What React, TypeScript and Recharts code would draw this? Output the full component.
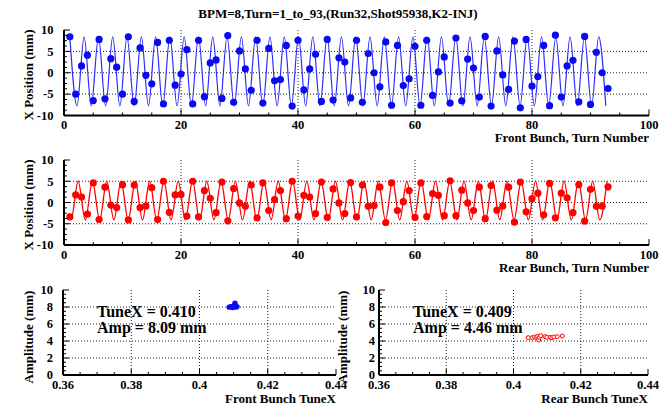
import React from 'react';
import { ComposedChart, Line, Scatter, XAxis, YAxis, CartesianGrid } from 'recharts';

// ---------- data ----------
const TITLE = 'BPM=8,Turn=1_to_93,(Run32,Shot95938,K2-INJ)';

// measured positions per turn (turn = index + 1)
const FRONT_X = [
  8.4, -5.0, 1.6, 4.1, -6.5, 7.8, -6.1, 3.3, 1.3, -5.0,
  8.4, -6.7, 5.8, -0.6, -2.6, 7.1, -7.3, 7.6, -2.9, -0.3,
  5.4, -7.3, 7.6, -5.6, 2.3, 3.0, -6.0, 8.7, -6.9, 5.1,
  0.9, -4.1, 7.6, -7.1, 5.7, -1.9, -1.6, 6.4, -7.8, 7.6,
  -4.0, 0.9, 4.3, -6.7, 7.8, -6.4, 3.5, 2.5, -5.9, 7.6,
  -6.9, 4.5, 0.0, -3.3, 7.2, -7.6, 6.4, -3.0, -1.4, 6.2,
  -7.6, 7.6, -5.3, 0.2, 3.7, -7.1, 8.1, -6.6, 3.2, 1.1,
  -5.7, 8.5, -7.8, 5.1, -0.5, -3.9, 7.4, -8.2, 7.8, -3.1,
  -0.9, 6.4, -7.7, 8.8, -5.7, 1.6, 2.9, -6.8, 8.5, -7.4,
  4.8, 0.0, -3.7,
];

const REAR_X = [
  -3.4, 1.8, 1.3, -2.7, 4.6, -4.0, 3.6, -0.6, -1.2, 4.2,
  -4.1, 4.1, -1.2, -0.8, 3.5, -4.0, 5.0, -2.3, 1.8, 1.9,
  -3.2, 5.0, -3.4, 2.8, 1.0, -2.4, 4.8, -4.3, 3.3, -0.1,
  -0.9, 4.1, -3.6, 4.6, -1.9, 0.7, 2.8, -3.8, 5.0, -3.2,
  1.7, 1.3, -2.6, 4.8, -3.5, 3.2, -0.1, -2.6, 4.7, -3.4,
  4.1, -0.9, -0.7, 3.6, -4.7, 4.6, -1.9, 0.2, 2.8, -3.5,
  4.6, -3.3, 2.1, 1.7, -3.1, 5.1, -3.1, 2.9, -0.1, -1.9,
  3.6, -3.8, 4.0, -1.8, -0.8, 3.6, -4.6, 4.8, -2.2, 0.9,
  2.2, -2.9, 4.5, -3.6, 2.2, 1.1, -2.4, 4.2, -4.4, 3.1,
  -0.9, -0.8, 3.7,
];

// fitted curve: turn positions of its successive extrema (front starts on a peak)
const FRONT_FIT_T = [
  1.00, 2.22, 3.44, 4.66, 5.89, 7.11, 8.33, 9.55, 10.77, 11.99,
  13.22, 14.44, 15.66, 16.88, 18.10, 19.32, 20.55, 21.77, 22.99, 24.21,
  25.43, 26.65, 27.88, 29.10, 30.32, 31.54, 32.76, 33.98, 35.20, 36.43,
  37.65, 38.87, 40.09, 41.31, 42.53, 43.76, 44.98, 46.20, 47.42, 48.64,
  49.86, 51.09, 52.31, 53.53, 54.75, 55.97, 57.19, 58.42, 59.64, 60.86,
  62.08, 63.30, 64.52, 65.74, 66.97, 68.19, 69.41, 70.63, 71.85, 73.07,
  74.30, 75.52, 76.74, 77.96, 79.18, 80.40, 81.63, 82.85, 84.07, 85.29,
  86.51, 87.73, 88.96, 90.18, 91.40, 92.62,
];
const FRONT_FIT_PEAK = 8.4;
const FRONT_FIT_TROUGH = -7.75;

// rear fit starts at turn 1, then alternates trough / peak
const REAR_FIT_START = [1.0, -3.3];
const REAR_FIT_T = [
  1.20, 2.42, 3.64, 4.86, 6.09, 7.31, 8.53, 9.75, 10.97, 12.19,
  13.42, 14.64, 15.86, 17.08, 18.30, 19.52, 20.74, 21.97, 23.19, 24.41,
  25.63, 26.85, 28.07, 29.29, 30.52, 31.74, 32.96, 34.18, 35.40, 36.62,
  37.85, 39.07, 40.29, 41.51, 42.73, 43.95, 45.17, 46.40, 47.62, 48.84,
  50.06, 51.28, 52.50, 53.72, 54.95, 56.17, 57.39, 58.61, 59.83, 61.05,
  62.28, 63.50, 64.72, 65.94, 67.16, 68.38, 69.60, 70.83, 72.05, 73.27,
  74.49, 75.71, 76.93, 78.15, 79.38, 80.60, 81.82, 83.04, 84.26, 85.48,
  86.71, 87.93, 89.15, 90.37, 91.59, 92.81,
];
const REAR_FIT_PEAK = 5.0;
const REAR_FIT_TROUGH = -4.1;

// tune scans
const FRONT_TUNE = [0.4087, 0.4092, 0.4097, 0.4101, 0.4103, 0.4104, 0.4107, 0.4110, 0.4100];
const FRONT_AMP = [7.98, 8.05, 7.95, 8.02, 8.25, 8.45, 8.0, 8.05, 8.1];
const REAR_TUNE = [0.4044, 0.4056, 0.4063, 0.4069, 0.4072, 0.4075, 0.4077, 0.4081, 0.4094, 0.4099, 0.4109, 0.4114, 0.4120, 0.4130, 0.4145];
const REAR_AMP = [4.39, 4.39, 4.47, 4.43, 4.55, 4.12, 4.43, 4.63, 4.51, 4.43, 4.43, 4.39, 4.47, 4.51, 4.59];

const FRONT_TEXT = ['TuneX = 0.410', 'Amp = 8.09 mm'];
const REAR_TEXT = ['TuneX = 0.409', 'Amp = 4.46 mm'];

// axes
const TURN_DOMAIN = [0, 100];
const TURN_MAJOR = [0, 20, 40, 60, 80, 100];
const TURN_TICKS = [0, 5, 10, 15, 20, 25, 30, 35, 40, 45, 50, 55, 60, 65, 70, 75, 80, 85, 90, 95, 100];
const POS_DOMAIN = [-10, 10];
const POS_MAJOR = [-10, -5, 0, 5, 10];
const POS_TICKS = [-10, -8.75, -7.5, -6.25, -5, -3.75, -2.5, -1.25, 0, 1.25, 2.5, 3.75, 5, 6.25, 7.5, 8.75, 10];
const TURN_GRID = [20, 40, 60, 80];
const POS_GRID = [-5, 0, 5];

const TUNE_DOMAIN = [0.36, 0.44];
const TUNE_MAJOR = [0.36, 0.38, 0.4, 0.42, 0.44];
const TUNE_TICKS = [0.36, 0.365, 0.37, 0.375, 0.38, 0.385, 0.39, 0.395, 0.4, 0.405, 0.41, 0.415, 0.42, 0.425, 0.43, 0.435, 0.44];
const AMP_DOMAIN = [0, 10];
const AMP_MAJOR = [0, 2, 4, 6, 8, 10];
const AMP_TICKS = [0, 0.5, 1, 1.5, 2, 2.5, 3, 3.5, 4, 4.5, 5, 5.5, 6, 6.5, 7, 7.5, 8, 8.5, 9, 9.5, 10];
const TUNE_GRID = [0.38, 0.4, 0.42];
const AMP_GRID = [2, 4, 6, 8];

// ---------- tables ----------
const frontDots = FRONT_X.map((v, i) => ({ t: i + 1, v }));
const rearDots = REAR_X.map((v, i) => ({ t: i + 1, v }));
const frontFit = FRONT_FIT_T.map((t, i) => ({ t, v: i % 2 === 0 ? FRONT_FIT_PEAK : FRONT_FIT_TROUGH }));
const rearFit = [
  { t: REAR_FIT_START[0], v: REAR_FIT_START[1] },
  ...REAR_FIT_T.map((t, i) => ({ t, v: i % 2 === 0 ? REAR_FIT_TROUGH : REAR_FIT_PEAK })),
];
const frontTune = FRONT_TUNE.map((t, i) => ({ t, v: FRONT_AMP[i] }));
const rearTune = REAR_TUNE.map((t, i) => ({ t, v: REAR_AMP[i] }));

// ---------- style ----------
const FONT = "'Liberation Serif', 'Times New Roman', Times, serif";
const BLUE = '#0a0af0';
const BLUE_LINE = '#2b2bff';
const RED = '#ff0000';
const TICK_FS = 12.5;

const isIn = (v: number, arr: number[]) => arr.some((m) => Math.abs(m - v) < 1e-9);

const bottomTick = (majors: number[]) => (p: any) => {
  const v = p.payload.value;
  const maj = isIn(v, majors);
  return (
    <g>
      <line x1={p.x} x2={p.x} y1={p.y} y2={p.y - (maj ? 6 : 3)} stroke="#000" strokeWidth={1} />
      {maj && (
        <text x={p.x} y={p.y + 13.5} textAnchor="middle" fontFamily={FONT} fontWeight="bold" fontSize={TICK_FS} fill="#000">
          {String(v)}
        </text>
      )}
    </g>
  );
};

const topTick = (majors: number[]) => (p: any) => {
  const maj = isIn(p.payload.value, majors);
  return <line x1={p.x} x2={p.x} y1={p.y} y2={p.y + (maj ? 6 : 3)} stroke="#000" strokeWidth={1} />;
};

const leftTick = (majors: number[], gap: number) => (p: any) => {
  const v = p.payload.value;
  const maj = isIn(v, majors);
  return (
    <g>
      <line x1={p.x} x2={p.x + (maj ? 6 : 3)} y1={p.y} y2={p.y} stroke="#000" strokeWidth={1} />
      {maj && (
        <text x={p.x - gap} y={p.y + 4.3} textAnchor="end" fontFamily={FONT} fontWeight="bold" fontSize={TICK_FS} fill="#000">
          {String(v)}
        </text>
      )}
    </g>
  );
};

const rightTick = (majors: number[]) => (p: any) => {
  const maj = isIn(p.payload.value, majors);
  return <line x1={p.x} x2={p.x - (maj ? 6 : 3)} y1={p.y} y2={p.y} stroke="#000" strokeWidth={1} />;
};

const AXIS_LINE = { stroke: '#000', strokeWidth: 2 };

type PanelProps = {
  left: number;
  top: number;
  w: number;
  h: number;
  yGap: number;
  xDomain: number[];
  xTicks: number[];
  xMajor: number[];
  yDomain: number[];
  yTicks: number[];
  yMajor: number[];
  vGrid: number[];
  hGrid: number[];
  children?: React.ReactNode;
};

function Panel(props: PanelProps) {
  const { left, top, w, h, yGap, xDomain, xTicks, xMajor, yDomain, yTicks, yMajor, vGrid, hGrid, children } = props;
  const L = 50;
  const M = 6;
  const R = 16;
  const B = 22;
  return (
    <div style={{ position: 'absolute', left: left - L, top: top - M }}>
      <ComposedChart width={L + w + R} height={M + h + B} margin={{ top: M, right: R, bottom: 0, left: 0 }}>
        <CartesianGrid
          horizontalValues={hGrid}
          verticalValues={vGrid}
          stroke="#222"
          strokeDasharray="1 2"
          strokeWidth={1}
        />
        <XAxis
          type="number"
          dataKey="t"
          domain={xDomain}
          ticks={xTicks}
          interval={0}
          allowDataOverflow
          height={B}
          tickSize={0}
          tickMargin={0}
          axisLine={AXIS_LINE}
          tickLine={false}
          tick={bottomTick(xMajor)}
        />
        <XAxis
          xAxisId="top"
          orientation="top"
          type="number"
          domain={xDomain}
          ticks={xTicks}
          interval={0}
          allowDataOverflow
          height={0}
          tickSize={0}
          tickMargin={0}
          axisLine={AXIS_LINE}
          tickLine={false}
          tick={topTick(xMajor)}
        />
        <YAxis
          type="number"
          dataKey="v"
          domain={yDomain}
          ticks={yTicks}
          interval={0}
          allowDataOverflow
          width={L}
          tickSize={0}
          tickMargin={0}
          axisLine={AXIS_LINE}
          tickLine={false}
          tick={leftTick(yMajor, yGap)}
        />
        <YAxis
          yAxisId="right"
          orientation="right"
          type="number"
          domain={yDomain}
          ticks={yTicks}
          interval={0}
          allowDataOverflow
          width={0}
          tickSize={0}
          tickMargin={0}
          axisLine={AXIS_LINE}
          tickLine={false}
          tick={rightTick(yMajor)}
        />
        {children}
      </ComposedChart>
    </div>
  );
}

const txt = { fontFamily: FONT, fontWeight: 'bold' as const, fill: '#000' };

export default function App() {
  return (
    <div style={{ position: 'absolute', left: 0, top: 0, width: 660, height: 408, background: '#fff', overflow: 'hidden' }}>
      <Panel
        left={64} top={29.5} w={585} h={85.5} yGap={10.5}
        xDomain={TURN_DOMAIN} xTicks={TURN_TICKS} xMajor={TURN_MAJOR}
        yDomain={POS_DOMAIN} yTicks={POS_TICKS} yMajor={POS_MAJOR}
        vGrid={TURN_GRID} hGrid={POS_GRID}
      >
        <Line data={frontFit} dataKey="v" type="monotone" stroke={BLUE_LINE} strokeWidth={1.2} dot={false} isAnimationActive={false} />
        <Scatter
          data={frontDots}
          dataKey="v"
          isAnimationActive={false}
          shape={(p: any) => <circle cx={p.cx} cy={p.cy} r={3.6} fill={BLUE} />}
        />
      </Panel>

      <Panel
        left={64} top={160} w={585} h={85} yGap={10.5}
        xDomain={TURN_DOMAIN} xTicks={TURN_TICKS} xMajor={TURN_MAJOR}
        yDomain={POS_DOMAIN} yTicks={POS_TICKS} yMajor={POS_MAJOR}
        vGrid={TURN_GRID} hGrid={POS_GRID}
      >
        <Line data={rearFit} dataKey="v" type="monotone" stroke={RED} strokeWidth={1.3} dot={false} isAnimationActive={false} />
        <Scatter
          data={rearDots}
          dataKey="v"
          isAnimationActive={false}
          shape={(p: any) => <circle cx={p.cx} cy={p.cy} r={3.6} fill={RED} />}
        />
      </Panel>

      <Panel
        left={63} top={290} w={273} h={85} yGap={10}
        xDomain={TUNE_DOMAIN} xTicks={TUNE_TICKS} xMajor={TUNE_MAJOR}
        yDomain={AMP_DOMAIN} yTicks={AMP_TICKS} yMajor={AMP_MAJOR}
        vGrid={TUNE_GRID} hGrid={AMP_GRID}
      >
        <Scatter
          data={frontTune}
          dataKey="v"
          isAnimationActive={false}
          shape={(p: any) => <circle cx={p.cx} cy={p.cy} r={2.7} fill={BLUE} />}
        />
      </Panel>

      <Panel
        left={379} top={290} w={269} h={85} yGap={4}
        xDomain={TUNE_DOMAIN} xTicks={TUNE_TICKS} xMajor={TUNE_MAJOR}
        yDomain={AMP_DOMAIN} yTicks={AMP_TICKS} yMajor={AMP_MAJOR}
        vGrid={TUNE_GRID} hGrid={AMP_GRID}
      >
        <Scatter
          data={rearTune}
          dataKey="v"
          isAnimationActive={false}
          shape={(p: any) => <circle cx={p.cx} cy={p.cy} r={2} fill="#fff" stroke={RED} strokeWidth={1} />}
        />
      </Panel>

      <svg width={660} height={408} style={{ position: 'absolute', left: 0, top: 0, pointerEvents: 'none' }}>
        <text x={338} y={18} textAnchor="middle" fontSize={13} {...txt}>{TITLE}</text>

        <text x={33} y={75} transform="rotate(-90 33 75)" textAnchor="middle" fontSize={13} {...txt}>X Position (mm)</text>
        <text x={33} y={205} transform="rotate(-90 33 205)" textAnchor="middle" fontSize={13} {...txt}>X Position (mm)</text>
        <text x={33} y={337} transform="rotate(-90 33 337)" textAnchor="middle" fontSize={13} {...txt}>Amplitude (mm)</text>
        <text x={347} y={337} transform="rotate(-90 347 337)" textAnchor="middle" fontSize={13} {...txt}>Amplitude (mm)</text>

        <text x={649} y={142} textAnchor="end" fontSize={13} {...txt}>Front Bunch, Turn Number</text>
        <text x={649} y={272} textAnchor="end" fontSize={13} {...txt}>Rear Bunch, Turn Number</text>
        <text x={336} y={402.5} textAnchor="end" fontSize={13} {...txt}>Front Bunch TuneX</text>
        <text x={648} y={402.5} textAnchor="end" fontSize={13} {...txt}>Rear Bunch TuneX</text>

        <text x={97} y={316.5} fontSize={16} {...txt}>{FRONT_TEXT[0]}</text>
        <text x={97} y={332.5} fontSize={16} {...txt}>{FRONT_TEXT[1]}</text>
        <text x={413} y={316.5} fontSize={16} {...txt}>{REAR_TEXT[0]}</text>
        <text x={413} y={332.5} fontSize={16} {...txt}>{REAR_TEXT[1]}</text>
      </svg>
    </div>
  );
}
